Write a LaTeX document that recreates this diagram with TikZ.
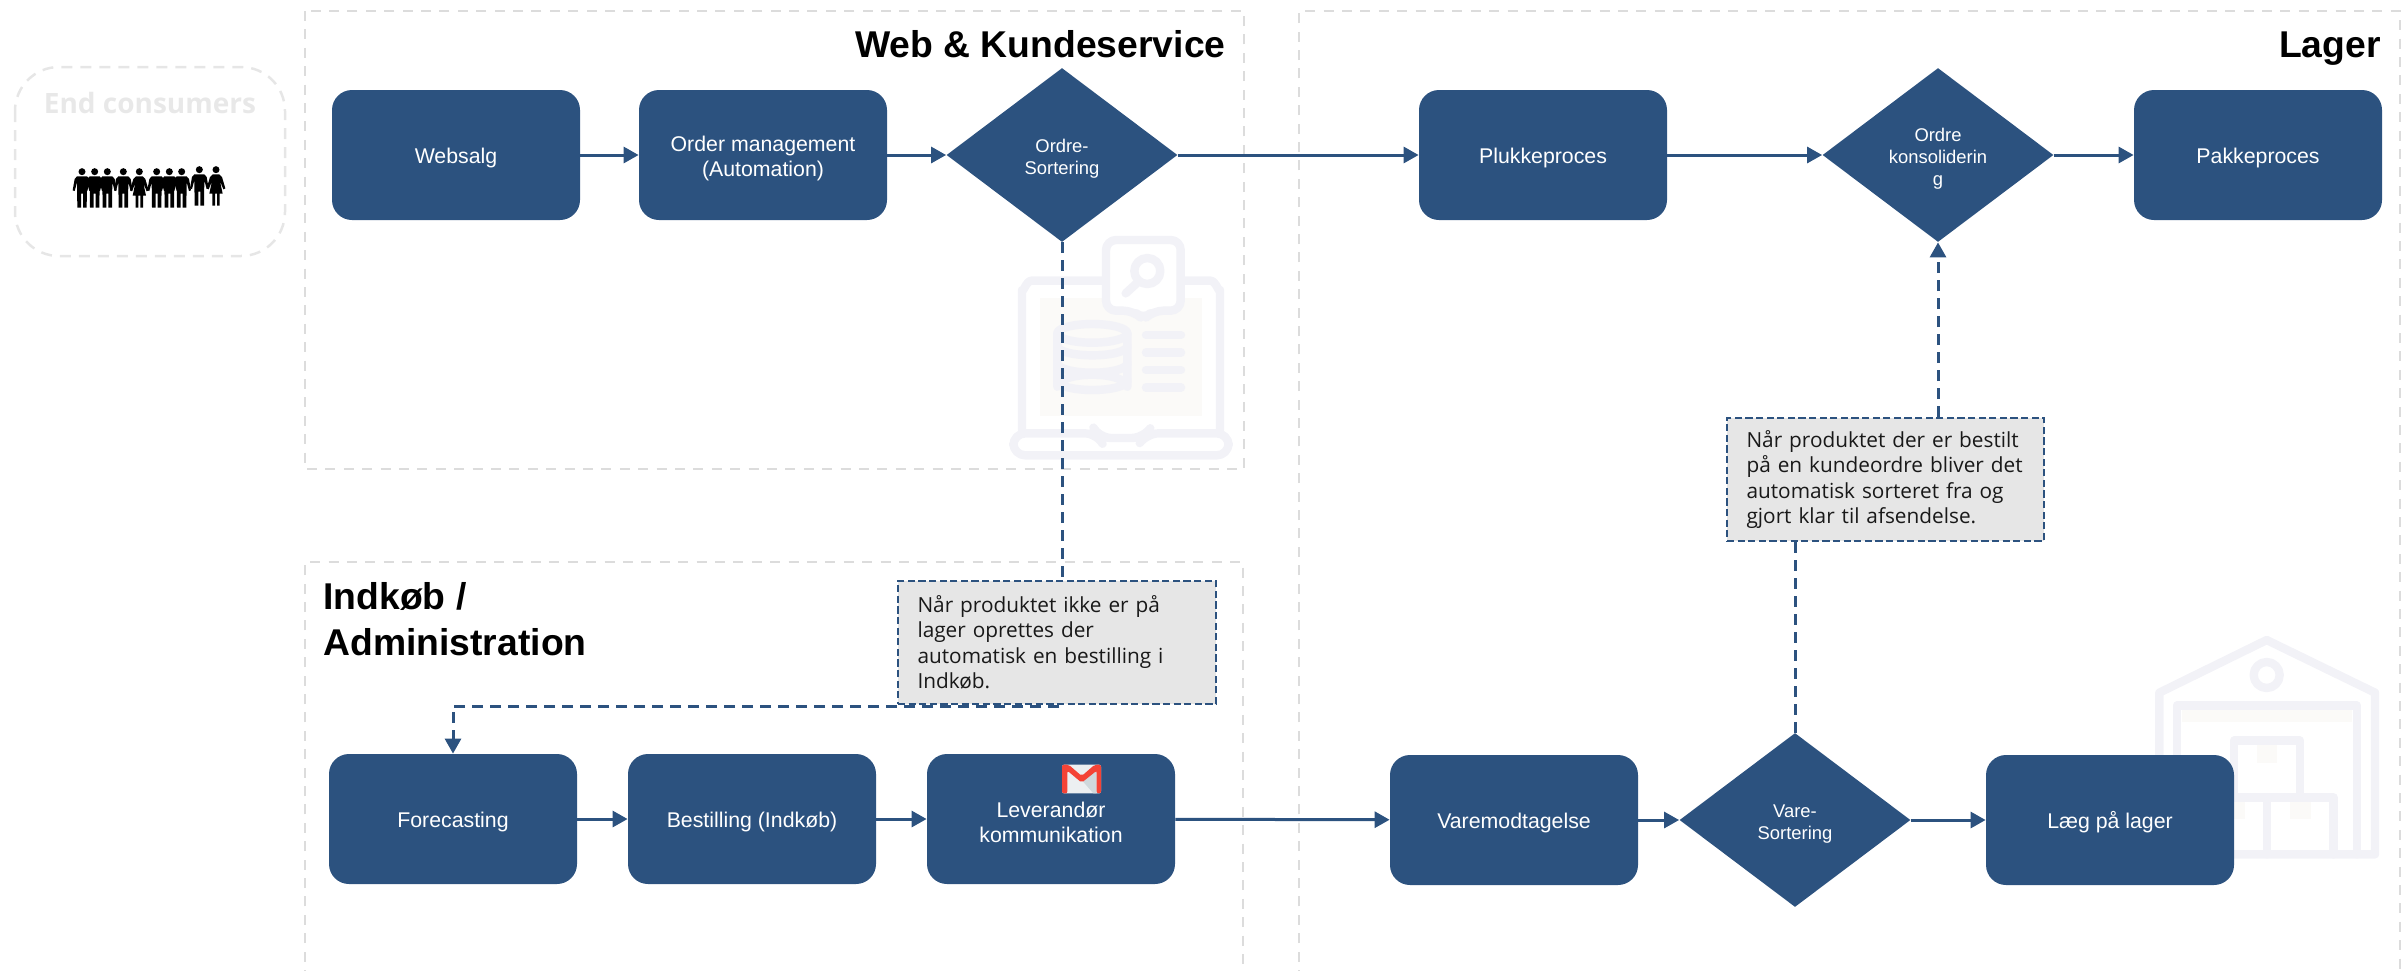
\documentclass[tikz,border=0pt]{standalone}
\usepackage{fontspec}
\setmainfont{Liberation Sans}
\newfontfamily\opensans{Open Sans}
\usetikzlibrary{shapes.geometric,arrows.meta}
\definecolor{navy}{HTML}{2C527F}
\definecolor{panelgray}{HTML}{DCDCDC}
\definecolor{faint}{HTML}{F2F2F7}
\definecolor{faintfill}{HTML}{FBFAF8}
\definecolor{endgray}{HTML}{E8E8E8}
\definecolor{notefill}{HTML}{E6E6E6}
\definecolor{gmailred}{HTML}{F44336}
\definecolor{gmailpaper}{HTML}{ECEFF1}
\definecolor{gmailshade}{HTML}{CFD8DC}
\newcommand{\toprow}{\rule{0pt}{10.8pt}}
\newcommand{\toprowsmall}{\rule{0pt}{10.2pt}}
\tikzset{
  panel/.style={draw=panelgray,line width=1.3pt,dash pattern=on 5pt off 4.2pt},
  procbox/.style={rectangle,rounded corners=10pt,fill=navy,draw=none,text=white,minimum width=124pt,minimum height=65pt,inner sep=0pt,align=center,font=\fontsize{10.65}{12.6}\selectfont},
  decide/.style={diamond,fill=navy,draw=none,text=white,minimum width=115.5pt,minimum height=87pt,aspect=1.33,inner sep=0pt,align=center,font=\fontsize{9.2}{11}\selectfont},
  notebox/.style={rectangle,fill=notefill,draw=navy,line width=1pt,dash pattern=on 3.6pt off 1.7pt,inner xsep=9.75pt,inner ysep=0pt,align=left,text=black!90,font=\opensans\fontsize{10.4}{12.75}\selectfont},
  title/.style={font=\bfseries\fontsize{18.65}{23}\selectfont,inner sep=0pt,text=black},
  arr/.style={draw=navy,line width=1.5pt,-{Triangle[length=7.5pt,width=8pt]}},
  dashline/.style={draw=navy,line width=1.5pt,dash pattern=on 5.5pt off 3.5pt},
  darr/.style={dashline,-{Triangle[length=7.5pt,width=8pt]}},
  iconline/.style={draw=faint,line width=4.2pt,line cap=round,line join=round},
  zoomed/.style={x=0.16667pt,y=-0.16667pt}
}
\newcommand{\manshape}[2]{%
  \fill[black] (#1,#2+14) circle[radius=10.5];
  \fill[black] (#1-15,#2+28) -- (#1+15,#2+28) -- (#1+22,#2+36) -- (#1+28,#2+70) -- (#1+22,#2+72) -- (#1+15,#2+46) -- (#1+14,#2+122) -- (#1+3,#2+122) -- (#1+3,#2+80) -- (#1-3,#2+80) -- (#1-3,#2+122) -- (#1-14,#2+122) -- (#1-15,#2+46) -- (#1-22,#2+72) -- (#1-28,#2+70) -- (#1-22,#2+36) -- cycle;}
\newcommand{\womanshape}[2]{%
  \fill[black] (#1,#2+14) circle[radius=10.5];
  \fill[black] (#1-10,#2+28) -- (#1+10,#2+28) -- (#1+18,#2+36) -- (#1+28,#2+70) -- (#1+22,#2+73) -- (#1+12,#2+48) -- (#1+20,#2+86) -- (#1+11,#2+86) -- (#1+11,#2+122) -- (#1+3,#2+122) -- (#1+3,#2+86) -- (#1-3,#2+86) -- (#1-3,#2+122) -- (#1-11,#2+122) -- (#1-11,#2+86) -- (#1-20,#2+86) -- (#1-12,#2+48) -- (#1-22,#2+73) -- (#1-28,#2+70) -- (#1-18,#2+36) -- cycle;}
\begin{document}
\begin{tikzpicture}[x=0.5pt,y=-0.5pt]
\path[use as bounding box,clip] (0,0) rectangle (2402,970);

% faint laptop icon
\begin{scope}[shift={(940,220)},zoomed]
  \fill[faintfill] (300,235) rectangle (787,587);
  \draw[iconline] (246,630) -- (246,210) to[out=-90,in=180] (274,182) -- (812,182) to[out=0,in=-90] (840,210) -- (840,630);
  \draw[iconline,fill=white,rounded corners=5pt] (498,60) -- (722,60) -- (722,272) -- (640,272) -- (610,300) -- (580,272) -- (498,272) -- cycle;
  \draw[iconline] (622,153) circle[radius=39];
  \draw[iconline] (590,190) -- (557,220);
  \draw[iconline] (352,340) -- (352,500) arc[start angle=180,end angle=360,x radius=105,y radius=36] -- (562,340);
  \draw[iconline] (457,340) ellipse[x radius=105,y radius=28];
  \foreach \yy in {378,430,482} \draw[iconline] (352,\yy) arc[start angle=180,end angle=360,x radius=105,y radius=-28];
  \foreach \yy in {345,398,450,503} \draw[iconline] (618,\yy) -- (723,\yy);
  \draw[iconline,rounded corners=6pt] (470,640) -- (220,640) -- (220,706) -- (866,706) -- (866,640) -- (620,640) -- (610,654) -- (478,654) -- cycle;
\end{scope}

% faint warehouse icon
\begin{scope}[shift={(2120,620)},zoomed]
  \fill[faintfill] (185,270) rectangle (697,307);
  \draw[iconline] (118,703) -- (118,218) -- (440,60) -- (765,218) -- (765,703) -- cycle;
  \draw[iconline] (170,703) -- (170,257) -- (711,257) -- (711,703);
  \draw[iconline] (440,165) circle[radius=39];
  \fill[faintfill] (410,375) rectangle (472,428);
  \fill[faintfill] (510,545) rectangle (572,598);
  \fill[faintfill] (312,545) rectangle (375,598);
  \draw[iconline] (342,532) -- (342,362) -- (540,362) -- (540,532);
  \draw[iconline] (245,703) -- (245,532) -- (640,532) -- (640,703);
  \draw[iconline] (440,532) -- (440,703);
\end{scope}

% panels
\draw[panel] (305,11) rectangle (1244,469);
\draw[panel] (305,980) -- (305,562) -- (1243,562) -- (1243,980);
\draw[panel] (1299,980) -- (1299,11) -- (2400,11) -- (2400,980);
\draw[draw=panelgray!70,line width=1.25pt,dash pattern=on 5.5pt off 4pt,rounded corners=22pt] (15,67) rectangle (285,256);

% titles
\node[title,anchor=base east] (tweb) at (1226,57) {Web \& Kundeservice};
\node[title,anchor=base east] (tlager) at (2381,57) {Lager};
\node[title,anchor=north west,align=left] (tind) at (323,582.5) {Indkøb /\\Administration};
\node[font=\opensans\bfseries\fontsize{14}{17}\selectfont,text=endgray,inner sep=0pt] (tend) at (150,103) {End consumers};

% people icon
\begin{scope}[zoomed]
  \manshape{246}{501}
  \manshape{284}{501}
  \manshape{322}{501}
  \manshape{370}{501}
  \womanshape{418}{501}
  \manshape{470}{501}
  \manshape{508}{501}
  \manshape{545}{501}
  \manshape{598}{495}
  \womanshape{648}{495}
\end{scope}

% process boxes
\node[procbox] (websalg) at (456,155) {\toprow Websalg};
\node[procbox] (order) at (763,155) {\toprow Order management\\(Automation)};
\node[decide] (ordre) at (1062,155) {\toprowsmall Ordre-\\Sortering};
\node[procbox] (plukke) at (1543,155) {\toprow Plukkeproces};
\node[decide] (konsol) at (1938,155) {\toprowsmall Ordre\\konsoliderin\\g};
\node[procbox] (pakke) at (2258,155) {\toprow Pakkeproces};
\node[procbox] (forecast) at (453,819) {\toprow Forecasting};
\node[procbox] (bestil) at (752,819) {\toprow Bestilling (Indkøb)};
\node[procbox] (lever) at (1051,819) {\toprow Leverandør\\kommunikation};
\node[procbox] (varem) at (1514,820) {\toprow Varemodtagelse};
\node[decide] (vare) at (1795,820) {\toprowsmall Vare-\\Sortering};
\node[procbox] (laeg) at (2110,820) {\toprow Læg på lager};

% gmail icon
\begin{scope}[shift={(880,560)},zoomed]
  \fill[rounded corners=1pt,fill=gmailpaper] (546,614) rectangle (663,700);
  \fill[gmailshade] (605,660) -- (650,625) -- (650,700) -- (640,700) -- cycle;
  \fill[gmailred,rounded corners=1pt] (546,614) -- (566,614) -- (605,648) -- (644,614) -- (663,614) -- (663,700) -- (650,700) -- (650,632) -- (605,668) -- (562,632) -- (562,700) -- (546,700) -- cycle;
\end{scope}

% notes
\coordinate (turn) at (1059,706);
\node[notebox,minimum width=159pt,minimum height=61.5pt,text width=139.5pt] (note1) at (1057,642.5) {Når produktet ikke er på\\lager oprettes der\\automatisk en bestilling i\\Indkøb.};
\node[notebox,minimum width=158.5pt,minimum height=61.5pt,text width=139pt] (note2) at (1885.5,479.5) {Når produktet der er bestilt\\på en kundeordre bliver det\\automatisk sorteret fra og\\gjort klar til afsendelse.};

% connectors
\draw[arr] (websalg) -- (order);
\draw[arr] (order) -- (ordre);
\draw[arr] (ordre) -- (plukke);
\draw[arr] (plukke) -- (konsol);
\draw[arr] (konsol) -- (pakke);
\draw[arr] (forecast) -- (bestil);
\draw[arr] (bestil) -- (lever);
\draw[arr] (lever) -- (varem);
\draw[arr] (varem) -- (vare);
\draw[arr] (vare) -- (laeg);
\draw[dashline] (ordre.south) -- (ordre.south |- note1.north);
\draw[darr] (turn) -| (forecast.north);
\draw[dashline] (vare.north) -- (vare.north |- note2.south);
\draw[darr] (konsol.south |- note2.north) -- (konsol.south);
\end{tikzpicture}
\end{document}
